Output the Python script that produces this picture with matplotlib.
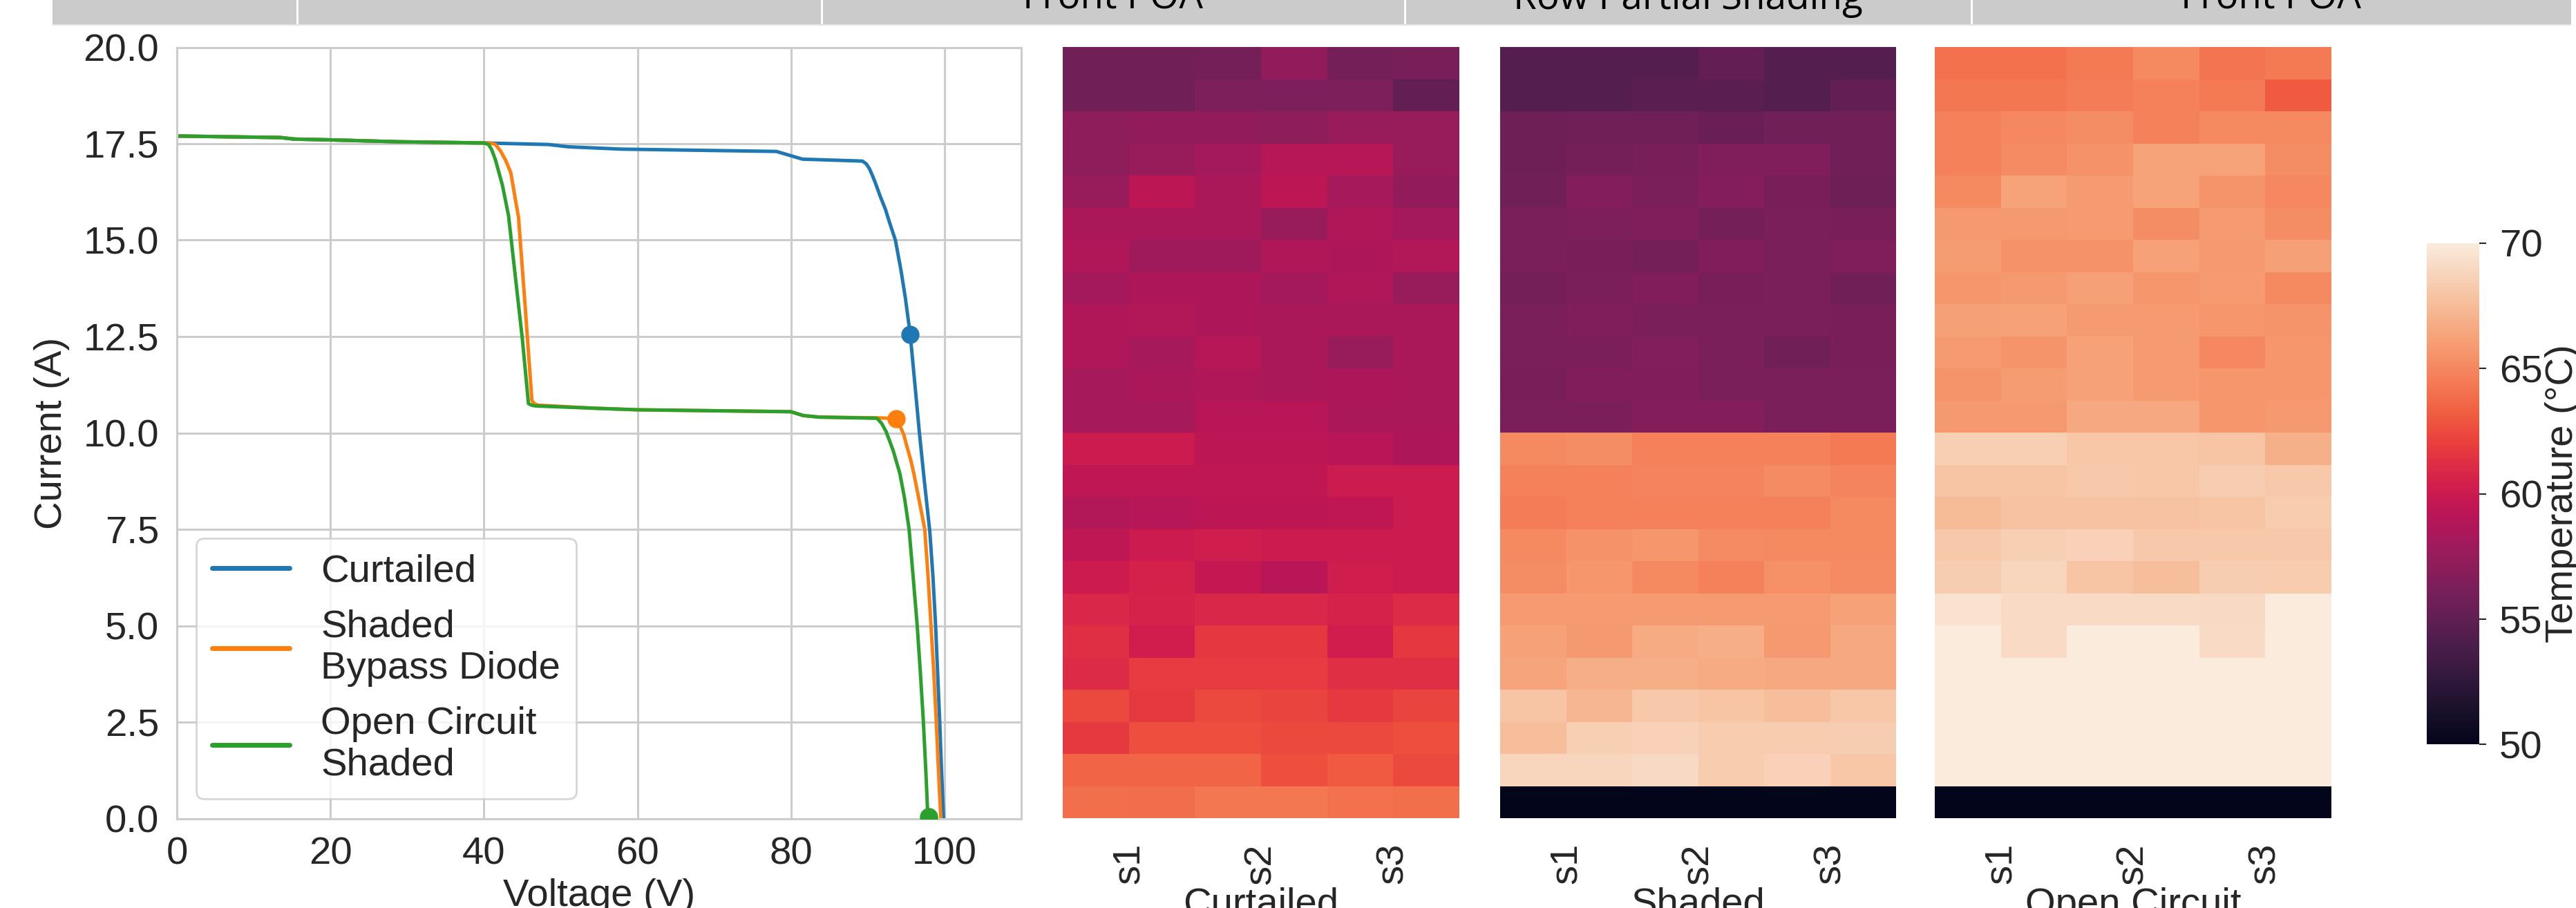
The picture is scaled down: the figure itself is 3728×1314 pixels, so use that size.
import matplotlib
matplotlib.use("Agg")
import matplotlib.pyplot as plt
import seaborn as sns
import numpy as np
from matplotlib.patches import Rectangle

# ---------------- data ----------------
header_labels = ["Front POA", "Row Partial Shading", "Front POA"]

curtailed_v = [0, 13.5, 15.3, 20, 29, 40, 48.4, 51, 57.9, 78.1, 79.8, 81.5, 89.3, 89.8, 90.2, 90.6, 91.0,
               91.6, 92.3, 92.9, 93.6, 94.3, 94.9, 95.53, 96.1, 96.73, 97.4, 98.08, 98.5, 98.83, 99.1, 99.37,
               99.6, 99.88]
curtailed_i = [17.7, 17.66, 17.62, 17.6, 17.55, 17.52, 17.48, 17.42, 17.36, 17.3, 17.2, 17.1, 17.05, 16.98, 16.86,
               16.68, 16.48, 16.15, 15.8, 15.42, 15.0, 14.25, 13.5, 12.56, 11.35, 10.0, 8.7, 7.45, 6.25, 5.04, 3.8,
               2.53, 1.3, 0.0]

bypass_v = [0, 13.5, 15.3, 20, 29, 40, 41.0, 41.5, 42.2, 42.8, 43.5, 44.1, 44.5, 45.4, 46.25, 46.6, 47.1, 54.4,
            60, 80, 81.6, 83.7, 91.5, 93.73, 94.2, 94.7, 95.1, 95.6, 96.0, 96.7, 97.42, 97.85, 98.23, 98.6, 98.92,
            99.2, 99.52]
bypass_i = [17.7, 17.66, 17.62, 17.6, 17.55, 17.52, 17.51, 17.48, 17.3, 17.08, 16.75, 16.05, 15.6, 13.2, 10.84,
            10.75, 10.72, 10.64, 10.6, 10.55, 10.45, 10.41, 10.39, 10.37, 10.18, 9.95, 9.65, 9.3, 8.95, 8.25, 7.51,
            6.3, 5.04, 3.8, 2.53, 1.3, 0.0]

opencirc_v = [0, 13.5, 15.3, 20, 29, 40, 40.6, 41.0, 41.5, 42.4, 43.2, 45.0, 45.8, 46.2, 46.7, 54.4, 60, 80,
              81.6, 83.7, 91.2, 91.8, 92.38, 93.3, 94.18, 94.8, 95.38, 95.9, 96.43, 96.85, 97.24, 97.55, 97.84]
opencirc_i = [17.7, 17.66, 17.62, 17.6, 17.55, 17.52, 17.48, 17.35, 17.08, 16.43, 15.64, 12.44, 10.76, 10.72, 10.7,
              10.64, 10.6, 10.55, 10.45, 10.41, 10.38, 10.25, 10.04, 9.55, 8.95, 8.3, 7.51, 6.3, 5.04, 3.8, 2.53,
              1.3, 0.0]

mpp_v = [95.53, 93.73, 97.9]
mpp_i = [12.56, 10.37, 0.05]
series_labels = ["Curtailed", "Shaded\nBypass Diode", "Open Circuit\nShaded"]

curtailed_temp = [
    [55.8, 55.8, 56.0, 57.3, 56.0, 56.15],
    [55.8, 55.8, 56.35, 56.35, 56.35, 55.1],
    [57.15, 57.3, 57.3, 57.15, 57.6, 57.6],
    [57.15, 57.6, 58.15, 59.0, 59.0, 57.6],
    [57.6, 59.3, 58.45, 59.3, 58.25, 57.3],
    [58.45, 58.45, 58.45, 57.6, 58.7, 58.15],
    [58.7, 57.95, 57.95, 58.7, 58.55, 58.8],
    [58.15, 58.55, 58.55, 58.15, 58.7, 57.6],
    [58.7, 58.8, 58.55, 58.45, 58.45, 58.45],
    [58.7, 58.25, 59.0, 58.45, 57.6, 58.45],
    [58.25, 58.45, 58.7, 58.45, 58.55, 58.45],
    [58.25, 58.25, 59.1, 59.1, 58.45, 58.45],
    [60.0, 60.0, 59.35, 59.35, 59.1, 58.55],
    [59.45, 59.45, 59.45, 59.45, 60.0, 60.0],
    [58.8, 59.0, 59.35, 59.35, 59.45, 60.0],
    [59.45, 60.0, 60.25, 60.0, 60.0, 60.0],
    [60.0, 60.5, 59.7, 59.1, 60.25, 60.0],
    [60.8, 60.55, 60.8, 60.8, 60.55, 61.05],
    [61.3, 60.25, 61.7, 61.7, 60.25, 61.7],
    [61.05, 61.8, 61.8, 61.8, 61.3, 61.3],
    [62.4, 61.75, 62.4, 62.25, 61.75, 62.25],
    [61.75, 62.65, 62.65, 62.4, 62.4, 62.65],
    [63.5, 63.5, 63.5, 62.65, 63.05, 62.4],
    [63.95, 63.85, 64.3, 64.3, 64.05, 63.95],
]

shaded_temp = [
    [54.4, 54.4, 54.4, 55.1, 54.4, 54.4],
    [54.4, 54.4, 54.75, 54.75, 54.4, 55.1],
    [55.6, 55.75, 55.75, 55.4, 55.75, 55.75],
    [55.55, 55.95, 56.1, 56.45, 56.45, 55.75],
    [55.75, 56.65, 56.3, 56.65, 56.1, 55.6],
    [56.25, 56.4, 56.45, 55.95, 56.3, 56.1],
    [56.3, 56.1, 55.95, 56.5, 56.3, 56.45],
    [55.95, 56.3, 56.5, 56.1, 56.3, 55.8],
    [56.3, 56.45, 56.3, 56.3, 56.3, 56.1],
    [56.25, 56.3, 56.6, 56.3, 55.75, 56.1],
    [56.1, 56.5, 56.5, 56.25, 56.25, 56.2],
    [56.25, 56.25, 56.65, 56.65, 56.2, 56.2],
    [65.1, 65.3, 64.75, 64.75, 64.7, 64.4],
    [64.75, 64.75, 64.9, 64.9, 65.2, 64.9],
    [64.6, 64.75, 64.7, 64.7, 64.75, 65.1],
    [65.1, 65.5, 65.7, 65.2, 65.1, 65.1],
    [65.3, 65.7, 65.1, 64.7, 65.4, 65.2],
    [65.9, 65.9, 65.9, 65.9, 65.9, 66.2],
    [66.2, 65.8, 66.7, 66.8, 65.8, 66.55],
    [66.4, 66.8, 66.8, 66.7, 66.55, 66.55],
    [67.95, 67.2, 68.2, 67.95, 67.6, 68.05],
    [67.6, 68.5, 68.6, 68.3, 68.3, 68.4],
    [68.9, 68.9, 69.0, 68.3, 68.65, 68.05],
    [50.0, 50.0, 50.0, 50.0, 50.0, 50.0],
]

opencircuit_temp = [
    [64.05, 64.05, 64.45, 65.1, 64.15, 64.45],
    [64.3, 64.3, 64.6, 64.7, 64.4, 63.05],
    [64.75, 65.0, 65.3, 64.7, 65.1, 65.1],
    [64.75, 65.2, 65.5, 66.3, 66.3, 65.3],
    [65.1, 66.3, 65.9, 66.3, 65.6, 65.0],
    [65.8, 65.8, 65.9, 65.3, 65.9, 65.3],
    [66.0, 65.5, 65.5, 66.2, 65.8, 66.1],
    [65.7, 65.8, 66.1, 65.7, 65.9, 65.1],
    [66.1, 66.2, 65.9, 65.9, 65.7, 65.6],
    [65.9, 65.6, 66.2, 65.9, 65.0, 65.7],
    [65.6, 66.0, 66.2, 65.9, 65.7, 65.7],
    [65.8, 65.8, 66.55, 66.55, 65.7, 65.8],
    [68.5, 68.5, 68.05, 68.05, 67.95, 66.95],
    [67.95, 67.95, 68.2, 68.05, 68.4, 68.2],
    [67.45, 67.85, 67.85, 67.85, 67.95, 68.3],
    [68.2, 68.5, 68.6, 68.2, 68.2, 68.2],
    [68.4, 68.9, 67.95, 67.6, 68.4, 68.3],
    [69.5, 69.1, 69.1, 69.1, 69.0, 70.0],
    [70.0, 69.1, 70.0, 70.0, 69.1, 70.0],
    [70.0, 70.0, 70.0, 70.0, 70.0, 70.0],
    [70.0, 70.0, 70.0, 70.0, 70.0, 70.0],
    [70.0, 70.0, 70.0, 70.0, 70.0, 70.0],
    [70.0, 70.0, 70.0, 70.0, 70.0, 70.0],
    [50.0, 50.0, 50.0, 50.0, 50.0, 50.0],
]

heatmap_titles = ["Curtailed", "Shaded", "Open Circuit"]
string_labels = ["s1", "s2", "s3"]
string_ticks = [1, 3, 5]
cbar_ticks = [50, 55, 60, 65, 70]

# ---------------- figure ----------------
sns.set_style("whitegrid")
plt.rcParams["font.family"] = ["Liberation Sans", "DejaVu Sans"]

W, H = 3728, 1314
fig = plt.figure(figsize=(W / 100, H / 100), dpi=100)
FS = 40.5
TXT = "#262626"


def px_axes(x0, y0, x1, y1):
    return fig.add_axes([x0 / W, 1 - y1 / H, (x1 - x0) / W, (y1 - y0) / H])


# header band
fig.patches.append(Rectangle((76 / W, 1 - 35 / H), (3721 - 76) / W, 35 / H, transform=fig.transFigure,
                             facecolor="#cbcbcb", edgecolor="none", zorder=0))
fig.patches.append(Rectangle((76 / W, 1 - 37 / H), (3721 - 76) / W, 2.5 / H, transform=fig.transFigure,
                             facecolor="#e2e2e2", edgecolor="none", zorder=0))
for sx in [430, 1189, 2033, 2853]:
    fig.patches.append(Rectangle(((sx - 1.5) / W, 1 - 35 / H), 3 / W, 35 / H, transform=fig.transFigure,
                                 facecolor="white", edgecolor="none", zorder=1))
for cx, lab in zip([1611, 2443, 3287], header_labels):
    fig.text(cx / W, 1 - 12.7 / H, lab, ha="center", va="baseline", fontsize=39.4,
             family=["Open Sans", "DejaVu Sans"], color="black")

# ---------------- IV curves ----------------
ax = px_axes(256, 68.5, 1478, 1184.5)
colors = ["#1f77b4", "#ff7f0e", "#2ca02c"]
for v, i, c, lab in zip([curtailed_v, bypass_v, opencirc_v], [curtailed_i, bypass_i, opencirc_i], colors, series_labels):
    ax.plot(v, i, color=c, lw=3.6, label=lab, solid_joinstyle="round")
for v, i, c in zip(mpp_v, mpp_i, colors):
    ax.plot([v], [i], "o", color=c, ms=18, zorder=5)
ax.set_xlim(0, 110)
ax.set_ylim(0, 20)
ax.set_xticks([0, 20, 40, 60, 80, 100])
ax.set_yticks(np.arange(0, 20.01, 2.5))
ax.grid(True, color="#cccccc", lw=2.2)
for s in ax.spines.values():
    s.set_color("#cccccc")
    s.set_linewidth(2.2)
ax.tick_params(length=0, pad=18.7, labelsize=FS, labelcolor=TXT)
ax.set_xlabel("Voltage (V)", fontsize=FS, color=TXT, labelpad=6)
ax.set_ylabel("Current (A)", fontsize=FS, color=TXT, labelpad=14)
leg = ax.legend(loc="lower left", fontsize=FS, frameon=True, fancybox=True, framealpha=0.8,
                edgecolor="#cccccc", labelcolor=TXT)
leg.get_frame().set_linewidth(2)
for line in leg.get_lines():
    line.set_linewidth(5)

# ---------------- heatmaps ----------------
cmap = sns.color_palette("rocket", as_cmap=True)
hm_boxes = [(1538, 2112), (2171, 2744), (2800, 3374)]
cax = px_axes(3512, 352, 3588, 1077)
for k, (data, title, (x0, x1)) in enumerate(zip([curtailed_temp, shaded_temp, opencircuit_temp], heatmap_titles, hm_boxes)):
    hax = px_axes(x0, 68, x1, 1184)
    last = k == 2
    sns.heatmap(np.array(data), ax=hax, cmap=cmap, vmin=50, vmax=70, cbar=last,
                cbar_ax=cax if last else None, xticklabels=False, yticklabels=False)
    hax.set_xticks(string_ticks)
    hax.set_xticklabels(string_labels, rotation=90)
    hax.set_yticks([])
    hax.tick_params(axis="x", length=0, pad=26, labelsize=FS, labelcolor=TXT)
    hax.set_xlabel(title, fontsize=FS, color=TXT, labelpad=3)
    if last:
        cb = hax.collections[0].colorbar
        cb.set_ticks(cbar_ticks)
        cb.outline.set_linewidth(0)
        cax.tick_params(length=7.2, width=1.5, pad=13.7, labelsize=FS, labelcolor=TXT, color=TXT, right=True)
        cb.set_label("Temperature (°C)", fontsize=FS, color=TXT, labelpad=2)

fig.savefig("out.png", dpi=100)
